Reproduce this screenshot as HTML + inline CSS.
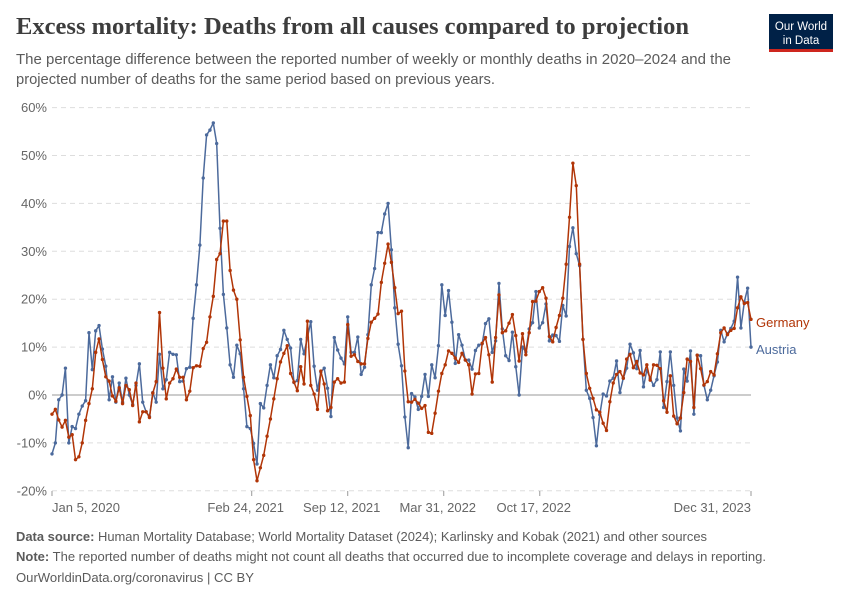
<!DOCTYPE html>
<html><head><meta charset="utf-8"><style>
body{margin:0;background:#fff;width:850px;height:600px;overflow:hidden;font-family:"Liberation Sans",sans-serif}
svg text{font-family:"Liberation Sans",sans-serif}
</style></head><body>
<svg id="chart" width="850" height="600" xmlns="http://www.w3.org/2000/svg">
<text x="16" y="34" style="font-family:'Liberation Serif',serif" font-size="24" font-weight="bold" fill="#3d3d3d" textLength="673" lengthAdjust="spacingAndGlyphs">Excess mortality: Deaths from all causes compared to projection</text>
<text x="16" y="64" font-size="15" fill="#5b5b5b" textLength="715" lengthAdjust="spacingAndGlyphs">The percentage difference between the reported number of weekly or monthly deaths in 2020–2024 and the</text>
<text x="16" y="84" font-size="15" fill="#5b5b5b" textLength="479" lengthAdjust="spacingAndGlyphs">projected number of deaths for the same period based on previous years.</text>
<g>
<rect x="769" y="14" width="64" height="38" fill="#002147"/>
<rect x="769" y="49" width="64" height="3" fill="#ce261e"/>
<text x="801" y="30" font-size="11.5" fill="#fff" text-anchor="middle">Our World</text>
<text x="801" y="44" font-size="11.5" fill="#fff" text-anchor="middle">in Data</text>
</g>
<g id="grid"></g><g id="axes"></g><g id="series"></g>
<text x="756" y="327" font-size="13" fill="#b13507">Germany</text>
<text x="756" y="354" font-size="13" fill="#4c6a9c">Austria</text>
<text x="16" y="541" font-size="13" fill="#5b5b5b" textLength="691" lengthAdjust="spacingAndGlyphs"><tspan font-weight="bold">Data source:</tspan> Human Mortality Database; World Mortality Dataset (2024); Karlinsky and Kobak (2021) and other sources</text>
<text x="16" y="561" font-size="13" fill="#5b5b5b" textLength="750" lengthAdjust="spacingAndGlyphs"><tspan font-weight="bold">Note:</tspan> The reported number of deaths might not count all deaths that occurred due to incomplete coverage and delays in reporting.</text>
<text x="16" y="582" font-size="13" fill="#5b5b5b" textLength="238" lengthAdjust="spacingAndGlyphs">OurWorldinData.org/coronavirus | CC BY</text>
</svg>
<script>
const yTicks=[60,50,40,30,20,10,0,-10,-20];
const xTickLabels=["Jan 5, 2020","Feb 24, 2021","Sep 12, 2021","Mar 31, 2022","Oct 17, 2022","Dec 31, 2023"];
const xTickDays=[0,416,616,816,1016,1456];
const austria=[-12.3,-10,-1,0,5.6,-10,-6.6,-7,-4,-2.3,-1.2,13,5.3,13.4,14.5,9.6,6,-1,3.8,-1.5,2.5,-1.5,3.5,0,-2,2,6.5,-1.5,-3.5,-4.5,0.5,-1.5,8.5,1.3,3.2,8.9,8.5,8.4,2.8,2.9,5.5,5.8,16,23,31.3,45.3,54.3,55.3,56.8,52.5,34.8,21,14,6.3,
3.7,10.4,8.6,1.3,-6.6,-7,-10.1,-14.4,-1.8,-2.7,2,6.3,3.6,8.2,9.5,13.5,11.6,9.8,2.6,3,11.6,8.6,12,15.3,6,1,4.8,5.6,1.4,-4.5,12,9.4,7.7,6.5,16.3,8.9,8.9,12.1,4.3,5.8,12.6,23,26.4,33.9,33.9,37.8,40,30.3,18.2,10.6,6.1,-4.6,-11,
0.3,-0.4,-3,-0.3,4.3,-0.3,6.3,3.6,10.3,23,16.6,21.8,15.2,6.6,12.6,10.4,7.3,7.3,5.4,9.3,10.4,10.7,14.9,15.9,8.9,11.3,23.3,13.8,8.2,7.2,13.1,5.9,0,10,9,13.8,15.1,21.6,14,15.1,19,11.3,12.5,12.4,11.2,18.7,16.5,31,34.9,29.5,27,11.6,1,-0.7,
-4.7,-10.6,-4.1,0.2,-0.2,2.9,3.5,7.1,0.5,3.5,5.6,10.6,8.8,5.5,9.3,1.7,5.2,3.5,2,3.2,9,-2.6,2.8,9,2,-4.8,-7.5,5.4,2.9,9.2,-4,8.3,8.2,2,-1,1,4,6.9,13.5,11.1,12.8,13.9,15.4,24.6,14,19.4,22.3,10];
const germany=[-4,-3,-5.2,-6.7,-5.3,-8.8,-8.3,-13.5,-12.9,-10,-5.3,-1.8,1.3,8.9,11.7,7.4,3.8,2.9,-0.2,-1.3,1.5,-1.8,2,1.1,-2.2,2.5,-5.6,-3.5,-3.5,-4.7,0.4,2.8,17.2,5.6,-0.8,2.5,3.4,5.4,3.7,3.7,-1,0.8,5.7,6.1,6,9.7,11,16.3,20.6,28.3,29.5,36.3,36.3,26,
21.9,20,11.5,3.7,-0.3,-4.3,-13.5,-17.9,-15.2,-12.6,-8.6,-5,-0.8,3.4,6.9,8.7,10.3,4.5,2.7,0.9,5.9,2.3,15.4,2,0.2,-3,5,2.3,-3.3,-2.6,2.7,3.4,2.5,2.7,14.7,8.1,8.4,7,6.5,6.5,11.8,15.2,16,16.9,23.5,27.5,31.5,27.7,22.4,17,17.5,5,-1.4,
-1.5,-0.9,-1.7,-2.8,-2.2,-7.8,-8,-3.8,0.8,4.5,6.3,9.2,8.7,7.7,6.8,8.7,7.3,6.3,0.2,4.4,4.5,10.8,12,8.4,2.7,12,20.9,13,13.4,15,16.8,12.4,7.1,12.8,8.4,13,19.5,19.6,21.6,22.4,20.2,12.2,11.1,14.1,16.6,20.2,27.3,37.1,48.4,43.7,27.3,11.6,4.5,1.4,
-0.7,-3.1,-3.6,-5.9,-7.4,-1.4,2.5,4.3,4.9,3.5,7.5,8.5,5.7,7,4.6,4.2,6.3,3.1,6.3,6.2,5.5,-1.2,-3.6,4,-4.4,-6,-4.8,0.5,7.5,7,-2.6,8.3,5.5,2.1,2.8,4.9,4.2,8.6,13,14,12.6,13.5,13.9,18.2,20.5,19.1,19.3,15.8];
const NS="http://www.w3.org/2000/svg";
const X0=52,X1=751,Y0=395,PX=4.79;
function yScale(v){return Y0-v*PX;}
function xDay(d){return X0+d/1456*(X1-X0);}
function xIdx(i,n){return X0+i/(n-1)*(X1-X0);}
function mk(tag,attrs,parent){const e=document.createElementNS(NS,tag);for(const k in attrs)e.setAttribute(k,attrs[k]);parent.appendChild(e);return e;}
const grid=document.getElementById('grid'),axes=document.getElementById('axes'),series=document.getElementById('series');
yTicks.forEach(v=>{
  const y=yScale(v);
  const l=mk('line',{x1:X0,x2:X1,y1:y,y2:y,stroke:v===0?'#bbb':'#ddd','stroke-width':v===0?1.5:1,'stroke-dasharray':v===0?'none':'5,4'},grid);
  
  
  const t=mk('text',{x:47,y:y+4.5,'text-anchor':'end','font-size':13,fill:'#666'},axes);
  t.textContent=v+'%';
  
  
});
xTickLabels.forEach((lab,i)=>{
  const x=xDay(xTickDays[i]);
  const tk=mk('line',{x1:x,x2:x,y1:491,y2:496,stroke:'#999'},axes);
  
  
  const anchor=i===0?'start':(i===xTickLabels.length-1?'end':'middle');
  const tx=i===0?X0:(i===xTickLabels.length-1?X1:x-6);
  const t=mk('text',{x:tx,y:512,'text-anchor':anchor,'font-size':13,fill:'#666'},axes);
  t.textContent=lab;
  
  
});
function draw(arr,color,name){
  const n=arr.length;
  const pts=arr.map((v,i)=>xIdx(i,n).toFixed(1)+','+yScale(v).toFixed(1)).join(' ');
  const pl=mk('polyline',{points:pts,fill:'none',stroke:color,'stroke-width':1.5,'stroke-linejoin':'round'},series);
  
  
  arr.forEach((v,i)=>{
    const c=mk('circle',{cx:xIdx(i,n),cy:yScale(v),r:1.7,fill:color},series);
    
    
  });
}
draw(austria,'#4c6a9c','austria');
draw(germany,'#b13507','germany');
</script>
</body></html>
